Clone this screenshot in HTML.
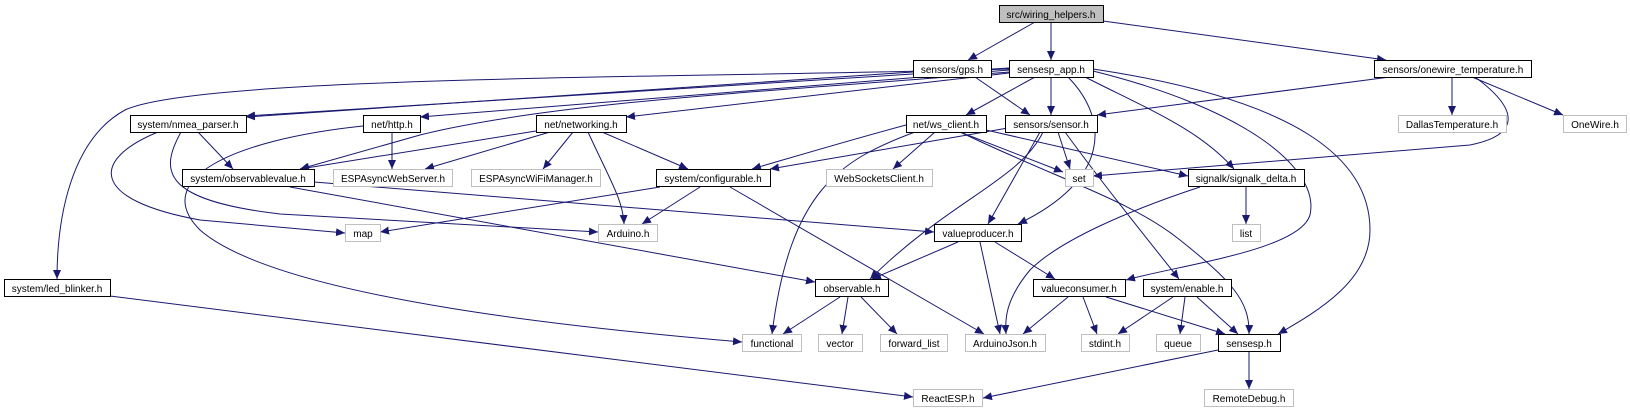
<!DOCTYPE html>
<html><head><meta charset="utf-8"><style>
html,body{margin:0;padding:0;background:#fff;}
svg{display:block;}
text{font-family:"Liberation Sans",Arial,sans-serif;font-size:10px;fill:#000;}
</style></head><body>
<svg width="1630" height="412" viewBox="0 0 1630 412" xmlns="http://www.w3.org/2000/svg">
<defs>
<marker id="a" markerUnits="userSpaceOnUse" markerWidth="10" markerHeight="8" refX="9" refY="4" orient="auto">
<path d="M0,0 L9,4 L0,8 z" fill="#191970"/>
</marker>
</defs>
<g fill="none" stroke="#191970" stroke-width="1" marker-end="url(#a)">
<path d="M1035,22 L968,60"/>
<path d="M1051,22 L1051,60"/>
<path d="M1103,21 L1386,60"/>
<path d="M975,77 L1030,115"/>
<path d="M913,72 L246,117"/>
<path d="M1009,69 C700,78 200,75 125,110 C70,140 57,220 57,279"/>
<path d="M1035,77 L966,115"/>
<path d="M1051,77 L1051,115"/>
<path d="M1085,77 C1150,110 1200,130 1234,169"/>
<path d="M1068,77 C1110,120 1110,180 1018,224"/>
<path d="M1093,71 C1250,110 1320,170 1310,215 C1300,250 1180,265 1126,280"/>
<path d="M1093,69 C1300,100 1370,160 1370,230 C1370,280 1320,310 1278,334"/>
<path d="M1009,72 C800,90 560,100 420,135 L300,169"/>
<path d="M1009,73 L626,117"/>
<path d="M1009,70 L420,117"/>
<path d="M1009,68 L246,116"/>
<path d="M1390,77 L1097,115"/>
<path d="M1452,77 L1452,115"/>
<path d="M1472,77 L1563,115"/>
<path d="M1475,77 C1520,110 1520,135 1470,145 L1093,176"/>
<path d="M198,132 L233,169"/>
<path d="M158,132 C90,160 90,200 200,220 L345,233"/>
<path d="M181,132 C160,170 160,200 280,214 L598,232"/>
<path d="M392,132 L392,169"/>
<path d="M363,126 C230,140 150,180 200,230 C280,300 600,330 742,342"/>
<path d="M536,131 L300,169"/>
<path d="M550,132 L425,169"/>
<path d="M573,132 L543,169"/>
<path d="M602,132 L688,169"/>
<path d="M588,132 C610,180 623,200 624,224"/>
<path d="M314,182 L934,232"/>
<path d="M290,187 L815,282"/>
<path d="M906,125 C850,140 800,155 752,169"/>
<path d="M915,132 C840,160 790,190 772,334"/>
<path d="M935,132 L893,169"/>
<path d="M960,132 L1063,172"/>
<path d="M986,130 L1188,176"/>
<path d="M960,132 C1060,180 1130,200 1180,240 C1230,280 1250,300 1249,334"/>
<path d="M1065,132 C1100,180 1140,230 1179,279"/>
<path d="M1008,128 L770,169"/>
<path d="M1058,132 L1070,169"/>
<path d="M1040,132 L988,224"/>
<path d="M1043,132 C1020,180 950,200 870,279"/>
<path d="M1246,187 L1246,224"/>
<path d="M1200,187 C1130,210 1060,240 1030,270 C1005,300 1005,320 1006,334"/>
<path d="M660,187 L380,232"/>
<path d="M700,187 L642,224"/>
<path d="M730,187 L984,334"/>
<path d="M958,242 L872,279"/>
<path d="M980,242 L1000,334"/>
<path d="M995,242 L1055,279"/>
<path d="M840,297 L783,334"/>
<path d="M848,297 L842,334"/>
<path d="M861,297 L897,334"/>
<path d="M1068,297 L1023,334"/>
<path d="M1083,297 L1097,334"/>
<path d="M1106,297 L1225,334"/>
<path d="M1173,297 L1118,334"/>
<path d="M1185,297 L1180,334"/>
<path d="M1197,297 L1238,334"/>
<path d="M1218,350 L983,398"/>
<path d="M1249,352 L1249,389"/>
<path d="M110,296 L913,397"/>
</g>
<g stroke-width="1">
<rect x="999.5" y="5.5" width="104" height="17" fill="#bfbfbf" stroke="#000"/>
<g fill="#fff" stroke="#000">
<rect x="913.5" y="60.5" width="78" height="17"/>
<rect x="1009.5" y="60.5" width="84" height="17"/>
<rect x="1374.5" y="60.5" width="157" height="17"/>
<rect x="906.5" y="115.5" width="80" height="17"/>
<rect x="1005.5" y="115.5" width="92" height="17"/>
<rect x="1188.5" y="169.5" width="116" height="17"/>
<rect x="130.5" y="115.5" width="116" height="17"/>
<rect x="363.5" y="115.5" width="57" height="17"/>
<rect x="536.5" y="115.5" width="90" height="17"/>
<rect x="182.5" y="169.5" width="132" height="17"/>
<rect x="656.5" y="169.5" width="114" height="17"/>
<rect x="4.5" y="279.5" width="106" height="17"/>
<rect x="934.5" y="224.5" width="87" height="17"/>
<rect x="815.5" y="279.5" width="73" height="17"/>
<rect x="1033.5" y="279.5" width="92" height="17"/>
<rect x="1143.5" y="279.5" width="88" height="17"/>
<rect x="1218.5" y="334.5" width="62" height="17"/>
</g>
<g fill="#fff" stroke="#bfbfbf">
<rect x="1398.5" y="115.5" width="108" height="17"/>
<rect x="1563.5" y="115.5" width="63" height="17"/>
<rect x="826.5" y="169.5" width="106" height="17"/>
<rect x="1065.5" y="169.5" width="28" height="17"/>
<rect x="333.5" y="169.5" width="119" height="17"/>
<rect x="471.5" y="169.5" width="129" height="17"/>
<rect x="345.5" y="224.5" width="35" height="17"/>
<rect x="598.5" y="224.5" width="59" height="17"/>
<rect x="742.5" y="334.5" width="59" height="17"/>
<rect x="1232.5" y="224.5" width="28" height="17"/>
<rect x="818.5" y="334.5" width="44" height="17"/>
<rect x="880.5" y="334.5" width="67" height="17"/>
<rect x="965.5" y="334.5" width="80" height="17"/>
<rect x="1081.5" y="334.5" width="48" height="17"/>
<rect x="1156.5" y="334.5" width="44" height="17"/>
<rect x="913.5" y="389.5" width="69" height="17"/>
<rect x="1204.5" y="389.5" width="89" height="17"/>
</g>
</g>
<g text-anchor="middle">
<text x="1051" y="18">src/wiring_helpers.h</text>
<text x="952" y="73">sensors/gps.h</text>
<text x="1051" y="73">sensesp_app.h</text>
<text x="1453" y="73">sensors/onewire_temperature.h</text>
<text x="946" y="128">net/ws_client.h</text>
<text x="1051" y="128">sensors/sensor.h</text>
<text x="1246" y="182">signalk/signalk_delta.h</text>
<text x="188" y="128">system/nmea_parser.h</text>
<text x="392" y="128">net/http.h</text>
<text x="581" y="128">net/networking.h</text>
<text x="248" y="182">system/observablevalue.h</text>
<text x="713" y="182">system/configurable.h</text>
<text x="57" y="292">system/led_blinker.h</text>
<text x="978" y="237">valueproducer.h</text>
<text x="852" y="292">observable.h</text>
<text x="1079" y="292">valueconsumer.h</text>
<text x="1187" y="292">system/enable.h</text>
<text x="1249" y="347">sensesp.h</text>
<text x="1452" y="128">DallasTemperature.h</text>
<text x="1595" y="128">OneWire.h</text>
<text x="879" y="182">WebSocketsClient.h</text>
<text x="1079" y="182">set</text>
<text x="393" y="182">ESPAsyncWebServer.h</text>
<text x="536" y="182">ESPAsyncWiFiManager.h</text>
<text x="363" y="237">map</text>
<text x="628" y="237">Arduino.h</text>
<text x="772" y="347">functional</text>
<text x="1246" y="237">list</text>
<text x="840" y="347">vector</text>
<text x="914" y="347">forward_list</text>
<text x="1005" y="347">ArduinoJson.h</text>
<text x="1105" y="347">stdint.h</text>
<text x="1178" y="347">queue</text>
<text x="948" y="402">ReactESP.h</text>
<text x="1249" y="402">RemoteDebug.h</text>
</g>
</svg>
</body></html>
